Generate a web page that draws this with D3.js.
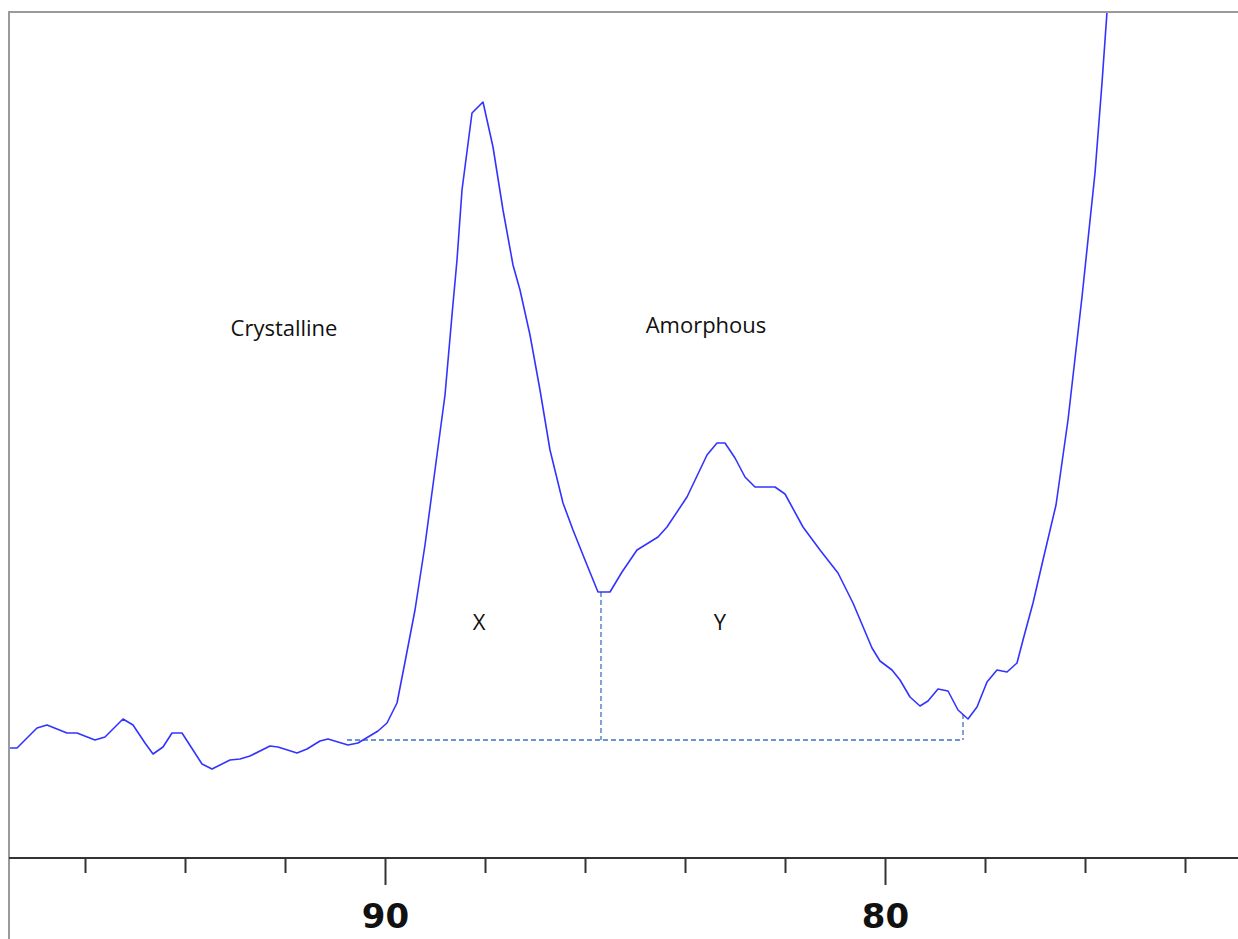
<!DOCTYPE html>
<html>
<head>
<meta charset="utf-8">
<script src="https://cdn.jsdelivr.net/npm/d3@7"></script>
<style>
  html, body { margin: 0; padding: 0; background: #fff; }
  svg { display: block; }
</style>
</head>
<body>
<svg id="chart" width="1238" height="939"></svg>
<script>
// Diffraction scan: 2θ (degrees, axis reversed) and intensity (counts)
const twoTheta = [
  97.54, 97.36, 96.96, 96.76, 96.36, 96.16, 95.80, 95.60, 95.24, 95.04,
  94.80, 94.64, 94.44, 94.26, 94.06, 93.66, 93.46, 93.10, 92.90, 92.70,
  92.30, 92.14, 91.76, 91.56, 91.30, 91.14, 90.74, 90.54, 90.14, 89.96,
  89.76, 89.60, 89.40, 89.20, 89.00, 88.80, 88.66, 88.56, 88.46, 88.26,
  88.04, 87.84, 87.64, 87.44, 87.30, 87.10, 86.90, 86.70, 86.44,
  86.24, 86.00, 85.74, 85.50, 85.26, 84.96, 84.54, 84.36, 83.96, 83.56,
  83.36, 83.20, 83.00, 82.80, 82.60, 82.20, 82.00, 81.64, 81.30, 80.94,
  80.64, 80.26, 80.10, 79.86, 79.70, 79.50, 79.30, 79.14, 78.94, 78.74,
  78.54, 78.34, 78.16, 77.96, 77.76, 77.56, 77.36, 77.24, 77.04, 76.84,
  76.58, 76.34, 76.06, 75.80, 75.66, 75.56, 75.40
];
const intensity = [
  110, 110, 130, 133, 125, 125, 118, 121, 139, 133,
  115, 104, 111, 125, 125,  94,  89,  98,  99, 102,
  112, 111, 105, 109, 117, 119, 113, 115, 127, 135,
  155, 196, 248, 313, 388, 463, 543, 598, 668, 745,
  756, 711, 648, 593, 568, 523, 468, 408, 355,
  328, 298, 266, 266, 286, 308, 321, 331, 361, 403,
  415, 415, 400, 381, 371, 371, 364, 331, 308, 285,
  255, 210, 197, 188, 178, 161, 152, 157, 169, 167,
  148, 139, 151, 176, 188, 186, 195, 218, 255, 298,
  353, 438, 561, 685, 775, 846, 960
];

// Axis ticks (every 2°, labelled every 10°)
const tickValues = [96, 94, 92, 90, 88, 86, 84, 82, 80, 78, 76, 74];
const labelledTicks = [90, 80];

// Background line and the split between crystalline and amorphous areas
const baseline = { from: 90.76, to: 78.44, level: 118 };
const splitLines = [
  { at: 85.68, top: 266 },
  { at: 78.44, top: 144 }
];

// Text annotations
const annotations = [
  { text: "Crystalline", x: 92.02, y: 531 },
  { text: "Amorphous",   x: 83.58, y: 534 },
  { text: "X",           x: 88.12, y: 237 },
  { text: "Y",           x: 83.30, y: 237 }
];

const svg = d3.select("#chart");
const frameLeft = 9, frameTop = 12, axisY = 858, right = 1238;

const x = d3.scaleLinear().domain([97.5, 72.94]).range([frameLeft + 1, right]);
const y = d3.scaleLinear().domain([0, 846]).range([axisY, frameTop]);

// Frame border
svg.append("path")
  .attr("d", `M${frameLeft},939 V${frameTop} H${right}`)
  .attr("fill", "none")
  .attr("stroke", "#9a9a9a")
  .attr("stroke-width", 2);

svg.append("defs").append("clipPath").attr("id", "plot-clip")
  .append("rect")
  .attr("x", frameLeft + 1).attr("y", frameTop + 1)
  .attr("width", right - frameLeft).attr("height", axisY - frameTop);

const plot = svg.append("g").attr("clip-path", "url(#plot-clip)");

// Dashed construction lines
const dashColor = "#3f74bd";
plot.append("line")
  .attr("x1", x(baseline.from)).attr("x2", x(baseline.to))
  .attr("y1", y(baseline.level)).attr("y2", y(baseline.level))
  .attr("stroke", dashColor).attr("stroke-width", 1.3)
  .attr("stroke-dasharray", "5,3");
plot.selectAll(".split").data(splitLines).join("line")
  .attr("class", "split")
  .attr("x1", d => x(d.at)).attr("x2", d => x(d.at))
  .attr("y1", d => y(d.top)).attr("y2", y(baseline.level))
  .attr("stroke", dashColor).attr("stroke-width", 1.3)
  .attr("stroke-dasharray", "5,3");

// Scan trace
const points = twoTheta.map((t, i) => [t, intensity[i]]);
plot.append("path")
  .datum(points)
  .attr("fill", "none")
  .attr("stroke", "#3333ff")
  .attr("stroke-width", 1.6)
  .attr("stroke-linejoin", "round")
  .attr("d", d3.line().x(d => x(d[0])).y(d => y(d[1])));

// Bottom axis
const axisG = svg.append("g").attr("transform", `translate(0,${axisY})`);
axisG.append("line")
  .attr("x1", frameLeft).attr("x2", right)
  .attr("stroke", "#333").attr("stroke-width", 2);
const axis = d3.axisBottom(x)
  .tickValues(tickValues)
  .tickSize(15)
  .tickFormat(d => labelledTicks.includes(d) ? d : "");
axisG.call(axis);
axisG.select(".domain").remove();
axisG.selectAll(".tick line")
  .attr("stroke", "#333").attr("stroke-width", 2)
  .attr("y2", d => labelledTicks.includes(d) ? 27 : 15);
axisG.selectAll(".tick text")
  .attr("y", 70)
  .attr("dy", 0)
  .attr("fill", "#111")
  .style("font-family", "'DejaVu Sans', sans-serif")
  .style("font-weight", "bold")
  .style("font-size", "34px");

// Annotations
svg.selectAll(".note").data(annotations).join("text")
  .attr("class", "note")
  .attr("x", d => x(d.x)).attr("y", d => y(d.y))
  .attr("text-anchor", "middle")
  .attr("dominant-baseline", "central")
  .attr("fill", "#111")
  .style("font-family", "'Open Sans', sans-serif")
  .style("font-size", "22px")
  .text(d => d.text);
</script>
</body>
</html>
